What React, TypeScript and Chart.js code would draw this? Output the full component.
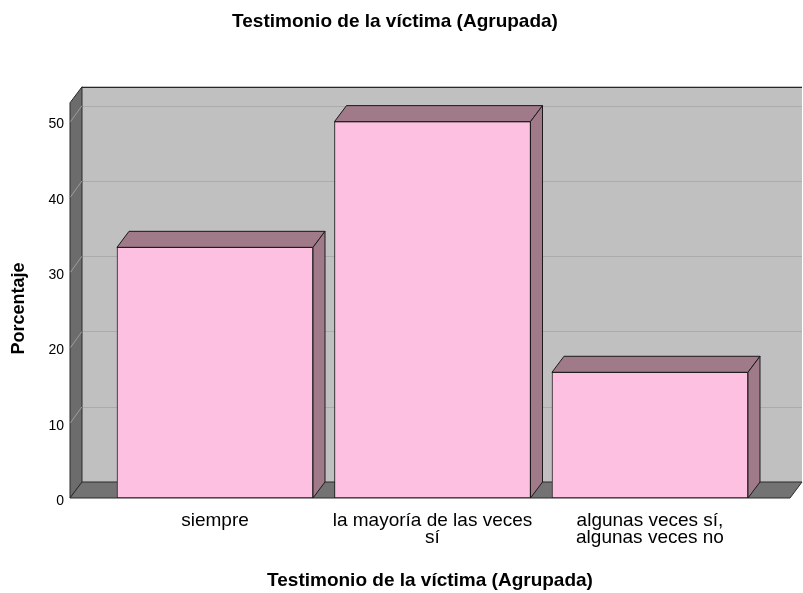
import React, { useEffect, useRef } from 'react';
import { Chart, registerables } from 'chart.js';

Chart.register(...registerables);

// ---- data ----
const categories: string[][] = [
  ['siempre'],
  ['la mayoría de las veces', 'sí'],
  ['algunas veces sí,', 'algunas veces no'],
];
const percentages: number[] = [33.3, 50.0, 16.7];
const yTickValues: number[] = [0, 10, 20, 30, 40, 50];
const chartTitle = 'Testimonio de la víctima (Agrupada)';
const xTitle = 'Testimonio de la víctima (Agrupada)';
const yTitle = 'Porcentaje';

// ---- style ----
const DX = 12;
const DY = -16;
const FRONT = '#FEC0E0';
const SHADE = '#A07A89';
const BACK_WALL = '#C0C0C0';
const SIDE_WALL = '#6C6C6C';
const FLOOR = '#737373';
const FONT = '"Liberation Sans", Arial, sans-serif';

function poly(ctx: CanvasRenderingContext2D, pts: number[][], fill: string, stroke: string) {
  ctx.beginPath();
  ctx.moveTo(pts[0][0], pts[0][1]);
  for (let i = 1; i < pts.length; i++) ctx.lineTo(pts[i][0], pts[i][1]);
  ctx.closePath();
  ctx.fillStyle = fill;
  ctx.fill();
  ctx.strokeStyle = stroke;
  ctx.lineWidth = 1;
  ctx.stroke();
}

const walls3d = {
  id: 'walls3d',
  beforeDatasetsDraw(chart: any) {
    const { ctx, chartArea, scales } = chart;
    const ys = scales.y;
    const x0 = chartArea.left;
    const x1 = chartArea.right;
    const yb = ys.getPixelForValue(0);
    const yt = chartArea.top;
    ctx.save();
    // back wall
    ctx.fillStyle = BACK_WALL;
    ctx.fillRect(x0 + DX, yt + DY, x1 - x0, yb - yt);
    // grid lines on back wall
    ctx.lineWidth = 1;
    for (const t of yTickValues) {
      if (t === 0) continue;
      const py = Math.round(ys.getPixelForValue(t)) + 0.5;
      ctx.strokeStyle = '#ABABAB';
      ctx.beginPath();
      ctx.moveTo(x0 + DX, py + DY);
      ctx.lineTo(x1 + DX, py + DY);
      ctx.stroke();
    }
    // top edge of back wall
    ctx.strokeStyle = '#000';
    ctx.beginPath();
    ctx.moveTo(x0 + DX, yt + DY + 0.5);
    ctx.lineTo(x1 + DX, yt + DY + 0.5);
    ctx.stroke();
    // left wall
    poly(ctx, [[x0, yt], [x0 + DX, yt + DY], [x0 + DX, yb + DY], [x0, yb]], SIDE_WALL, '#2A2A2A');
    for (const t of yTickValues) {
      if (t === 0) continue;
      const py = ys.getPixelForValue(t);
      ctx.strokeStyle = '#9C9C9C';
      ctx.beginPath();
      ctx.moveTo(x0 + 0.5, py);
      ctx.lineTo(x0 + DX, py + DY);
      ctx.stroke();
    }
    // floor
    poly(ctx, [[x0, yb], [x0 + DX, yb + DY], [x1 + DX, yb + DY], [x1, yb]], FLOOR, '#2A2A2A');
    ctx.restore();
  },
  afterDatasetsDraw(chart: any) {
    const { ctx } = chart;
    const meta = chart.getDatasetMeta(0);
    ctx.save();
    meta.data.forEach((bar: any) => {
      const { x, y, base, width } = bar.getProps(['x', 'y', 'base', 'width'], true);
      const l = x - width / 2;
      const r = x + width / 2;
      poly(ctx, [[l, y], [l + DX, y + DY], [r + DX, y + DY], [r, y]], SHADE, '#1A1A1A');
      poly(ctx, [[r, y], [r + DX, y + DY], [r + DX, base + DY], [r, base]], SHADE, '#1A1A1A');
    });
    ctx.restore();
  },
  afterDraw(chart: any) {
    const { ctx, chartArea } = chart;
    ctx.save();
    ctx.translate(19, (chartArea.top + chartArea.bottom) / 2 + 8);
    ctx.rotate(-Math.PI / 2);
    ctx.fillStyle = '#000';
    ctx.font = 'bold 18px ' + FONT;
    ctx.textAlign = 'center';
    ctx.textBaseline = 'middle';
    ctx.fillText(yTitle, 0, 0);
    ctx.restore();
  },
};

export default function App() {
  const ref = useRef<HTMLCanvasElement>(null);
  useEffect(() => {
    document.body.style.margin = '0';
    Chart.defaults.font.family = FONT;
    const chart = new Chart(ref.current as HTMLCanvasElement, {
      type: 'bar',
      data: {
        datasets: [
          {
            data: percentages.map((v, i) => ({ x: i, y: v })),
            backgroundColor: FRONT,
            borderColor: '#1A1A1A',
            borderWidth: 1,
            borderSkipped: false,
            barThickness: 196,
          },
        ],
      },
      options: {
        responsive: false,
        animation: false,
        layout: { padding: { left: 0, right: 13, top: 0, bottom: 0 } },
        plugins: {
          legend: { display: false },
          tooltip: { enabled: false },
          title: {
            display: true,
            text: chartTitle,
            color: '#000',
            font: { size: 19, weight: 'bold' },
            padding: { top: 10, bottom: 70 },
          },
        },
        scales: {
          x: {
            type: 'linear',
            offset: false,
            min: -0.6667,
            max: 2.6437,
            afterBuildTicks: (s: any) => {
              s.ticks = categories.map((_, i) => ({ value: i }));
            },
            afterFit: (s: any) => {
              s.height = 95;
            },
            ticks: {
              callback: (v: any) => categories[v as number],
              maxRotation: 0,
              minRotation: 0,
              autoSkip: false,
              padding: 14,
              color: '#000',
              font: { size: 19, lineHeight: 0.92 },
            },
            grid: { display: false, drawTicks: false },
            border: { display: false },
            title: {
              display: true,
              text: xTitle,
              color: '#000',
              font: { size: 19, weight: 'bold' },
              padding: { top: 0, bottom: 1 },
            },
          },
          y: {
            min: 0,
            max: 52.5,
            afterFit: (s: any) => {
              s.width = 70;
            },
            ticks: {
              stepSize: 10,
              includeBounds: false,
              padding: 6,
              labelOffset: 3,
              color: '#000',
              font: { size: 14 },
            },
            grid: { display: false, drawTicks: false },
            border: { display: false },
            title: { display: false },
          },
        },
      },
      plugins: [walls3d],
    });
    return () => chart.destroy();
  }, []);
  return (
    <div style={{ position: 'absolute', left: 0, top: 0, width: 803, height: 593, background: '#fff' }}>
      <canvas ref={ref} width={803} height={593} style={{ display: 'block', width: 803, height: 593 }} />
    </div>
  );
}
